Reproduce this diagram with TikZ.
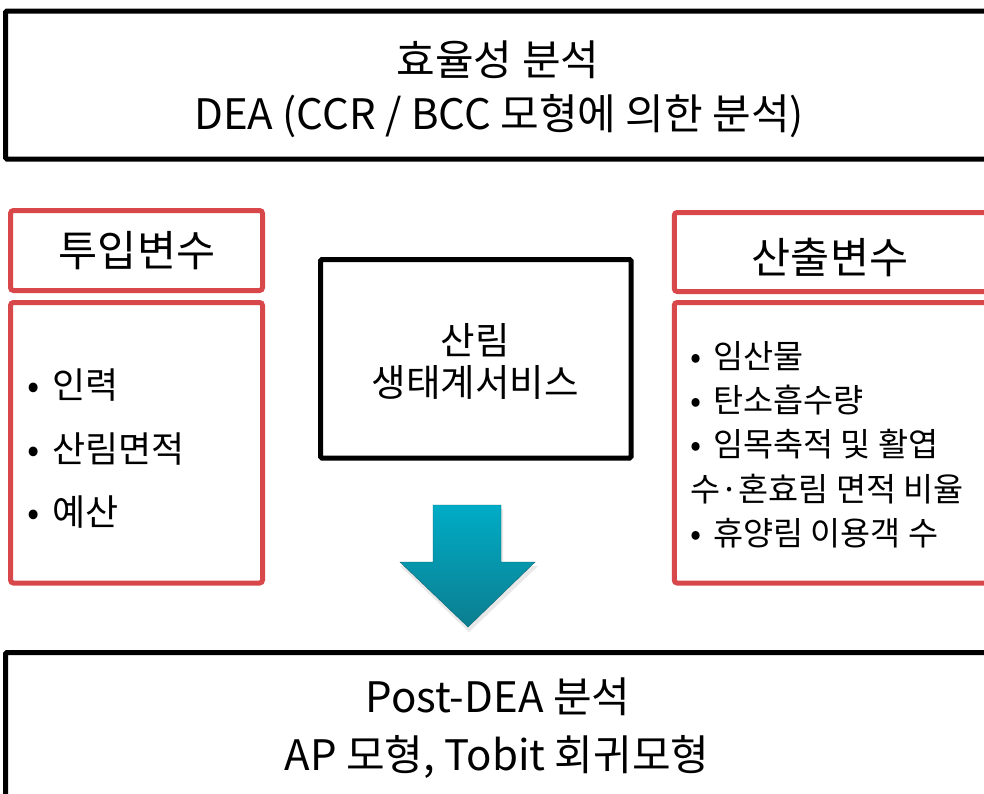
\documentclass[tikz,border=0pt]{standalone}
\usepackage{fontspec}
\setmainfont{Noto Sans CJK KR}
\definecolor{boxred}{RGB}{216,72,74}
\definecolor{arrtop}{RGB}{0,172,198}
\definecolor{arrbot}{RGB}{12,126,144}
\newcommand{\bul}{\makebox[0.7em][l]{•}}
\begin{document}
\begin{tikzpicture}[x=1pt,y=-1pt,
  blackbox/.style={draw=black,line width=5pt,rounded corners=1.5pt,inner sep=0pt},
  redbox/.style={draw=boxred,line width=5pt,rounded corners=3pt,inner sep=0pt},
  bigtxt/.style={font=\fontsize{42}{46}\selectfont,inner sep=0pt},
  headtxt/.style={font=\fontsize{42.5}{46}\selectfont,inner sep=0pt},
  midtxt/.style={font=\fontsize{37.5}{42}\selectfont,inner sep=0pt},
  smalltxt/.style={font=\fontsize{32.7}{36}\selectfont,inner sep=0pt,anchor=west},
  listtxt/.style={font=\fontsize{36}{40}\selectfont,inner sep=0pt,anchor=west}]
\useasboundingbox (0,0) rectangle (984,793);
\clip (0,0) rectangle (984,793);
\fill[white] (0,0) rectangle (984,793);
% top box
\node[blackbox,minimum width=987pt,minimum height=148pt] (topbox) at (499,85) {};
\node[bigtxt] (t1) at (498,60) {효율성 분석};
\node[bigtxt] (t2) at (499,116) {DEA (CCR / BCC 모형에 의한 분석)};
% left
\node[redbox,minimum width=252pt,minimum height=80pt] (inhead) at (136.5,250.5) {};
\node[headtxt] (inheadt) at (137,251) {투입변수};
\node[redbox,minimum width=252pt,minimum height=280.5pt] (inbody) at (136.5,442.75) {};
\node[listtxt] (i1) at (27,385) {\bul 인력};
\node[listtxt] (i2) at (27,449) {\bul 산림면적};
\node[listtxt] (i3) at (27,512) {\bul 예산};
% center
\node[blackbox,minimum width=310.5pt,minimum height=198.5pt] (center) at (475.75,358.75) {};
\node[midtxt] (c1) at (475,340) {산림};
\node[midtxt] (c2) at (475,382) {생태계서비스};
% right
\node[redbox,minimum width=325.5pt,minimum height=79pt] (outhead) at (837,252) {};
\node[headtxt] (outheadt) at (830,257) {산출변수};
\node[redbox,minimum width=325.5pt,minimum height=280.5pt] (outbody) at (837,442.75) {};
\node[smalltxt] (o1) at (690,356) {\bul 임산물};
\node[smalltxt] (o2) at (690,400) {\bul 탄소흡수량};
\node[smalltxt] (o3) at (690,444) {\bul 임목축적 및 활엽};
\node[smalltxt] (o4) at (690,489) {수·혼효림 면적 비율};
\node[smalltxt] (o5) at (690,533) {\bul 휴양림 이용객 수};
% arrow
\fill[black!25,opacity=0.35] (435,509) -- (503,509) -- (503,566) -- (538,566) -- (469,632) -- (400,566) -- (435,566) -- cycle;
\shade[top color=arrtop,bottom color=arrbot,draw=arrbot!80!black,line width=0.4pt]
  (433,505) -- (501,505) -- (501,562) -- (535,562) -- (468,627) -- (400,562) -- (433,562) -- cycle;
% bottom box
\node[blackbox,minimum width=987pt,minimum height=200pt] (botbox) at (499,752.5) {};
\node[bigtxt] (b1) at (498,697) {Post-DEA 분석};
\node[bigtxt] (b2) at (497,757) {AP 모형, Tobit 회귀모형};
\end{tikzpicture}
\end{document}
